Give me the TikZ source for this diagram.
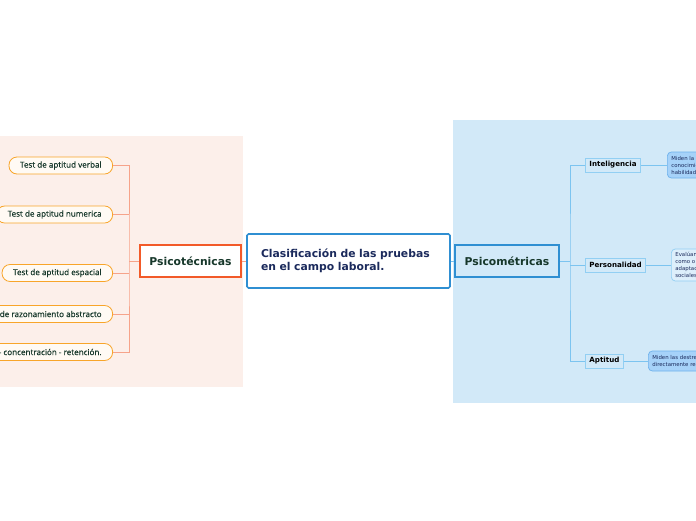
\documentclass[tikz,border=0pt]{standalone}
\usepackage{fontspec}
\setmainfont{DejaVu Sans}
\newfontfamily\leaffont[FakeBold=0.5]{Open Sans}
\usetikzlibrary{positioning}
\definecolor{PeachBack}{HTML}{FCEFEA}
\definecolor{SkyBack}{HTML}{D2E9F8}
\definecolor{HubBlue}{HTML}{2F8FD2}
\definecolor{HubNavy}{HTML}{1B2A5C}
\definecolor{TechRed}{HTML}{F25A29}
\definecolor{TechGreen}{HTML}{16372A}
\definecolor{PillOrange}{HTML}{F8A52A}
\definecolor{PillFill}{HTML}{FFFAF4}
\definecolor{SalmonLine}{HTML}{F6A38A}
\definecolor{SkyLine}{HTML}{7CC4F0}
\definecolor{LeafBorder}{HTML}{92CFF3}
\definecolor{NoteFill}{HTML}{A6D2F9}
\definecolor{NoteBorder}{HTML}{6EB2EC}
\definecolor{NotePale}{HTML}{DDEFFB}
\tikzset{
  hubbox/.style={draw=HubBlue,line width=1.6pt,rounded corners=1.5pt,fill=white,align=left,text=HubNavy,font=\bfseries\fontsize{10.8}{13}\selectfont,text width=175pt,minimum height=54pt,inner xsep=14pt},
  techbox/.style={draw=TechRed,line width=1.6pt,fill=white,text=TechGreen,font=\bfseries\fontsize{10.8}{12}\selectfont,minimum width=101pt,minimum height=32pt,inner xsep=2pt},
  metricbox/.style={techbox,draw=HubBlue,fill=SkyBack,minimum width=104pt},
  testpill/.style={draw=PillOrange,line width=0.8pt,rounded corners=8pt,fill=PillFill,text=TechGreen,font=\leaffont\fontsize{8.1}{9}\selectfont,minimum height=17pt,inner xsep=11pt,anchor=east},
  metricleaf/.style={draw=LeafBorder,line width=0.9pt,fill=SkyBack,font=\bfseries\fontsize{7.1}{8}\selectfont,minimum height=14pt,inner xsep=4pt,anchor=west},
  notebox/.style={draw=NoteBorder,line width=0.7pt,rounded corners=4pt,fill=NoteFill,align=left,text=HubNavy,font=\fontsize{5.4}{7}\selectfont,anchor=west,inner xsep=4pt,text width=60pt},
  techflow/.style={draw=SalmonLine,line width=0.9pt},
  metricflow/.style={draw=SkyLine,line width=0.9pt}
}
\begin{document}
\begin{tikzpicture}[x=1pt,y=-1pt]
  \useasboundingbox (0,0) rectangle (696,520);
  \clip (0,0) rectangle (696,520);
  % backgrounds
  \fill[PeachBack] (-5,136) rectangle (243,387);
  \fill[SkyBack] (453,120) rectangle (700,403);
  % main nodes
  \node[hubbox] (hub) at (348.5,261) {Clasificación de las pruebas\\en el campo laboral.};
  \node[techbox] (tech) at (190.5,261) {Psicotécnicas};
  \node[metricbox] (metric) at (507,261) {Psicométricas};
  % psicotécnicas
  \node[testpill] (verbal) at (113,165.5) {Test de aptitud verbal};
  \node[testpill] (numerica) at (113,214.5) {Test de aptitud numerica};
  \node[testpill] (espacial) at (113,273) {Test de aptitud espacial};
  \node[testpill] (abstracto) at (113,314) {Test de razonamiento abstracto};
  \node[testpill] (retencion) at (113,352) {Test de atención - concentración - retención.};
  % psicométricas
  \node[metricleaf] (intel) at (585,165) {Inteligencia};
  \node[metricleaf] (perso) at (585,265) {Personalidad};
  \node[metricleaf] (aptitud) at (585,361) {Aptitud};
  \node[notebox,minimum height=26pt] (intelnote) at (667,165) {Miden la capacidad\\conocimientos y\\habilidades};
  \node[notebox,fill=NotePale,draw=LeafBorder,minimum height=32pt] (persnote) at (671,265) {Evalúan rasgos\\como o\\adaptación\\sociales};
  \node[notebox,minimum height=20pt] (aptnote) at (648,361) {Miden las destrezas\\directamente re};
  % connectors
  \draw[techflow] (tech) -- (hub);
  \draw[metricflow] (hub) -- (metric);
  \coordinate (techfork) at (129,261);
  \draw[techflow] (tech.west) -- (techfork);
  \draw[techflow] (verbal.east) -| (techfork) |- (retencion.east);
  \foreach \leaf in {numerica,espacial,abstracto}
    \draw[techflow] (\leaf.east) -- (techfork |- \leaf.east);
  \coordinate (metricfork) at (570,261);
  \draw[metricflow] (metric.east) -- (metricfork);
  \draw[metricflow] (intel.west) -| (metricfork) |- (aptitud.west);
  \draw[metricflow] (perso.west) -- (metricfork |- perso.west);
  \draw[metricflow] (intel) -- (intelnote);
  \draw[metricflow] (perso) -- (persnote);
  \draw[metricflow] (aptitud) -- (aptnote);
\end{tikzpicture}
\end{document}
